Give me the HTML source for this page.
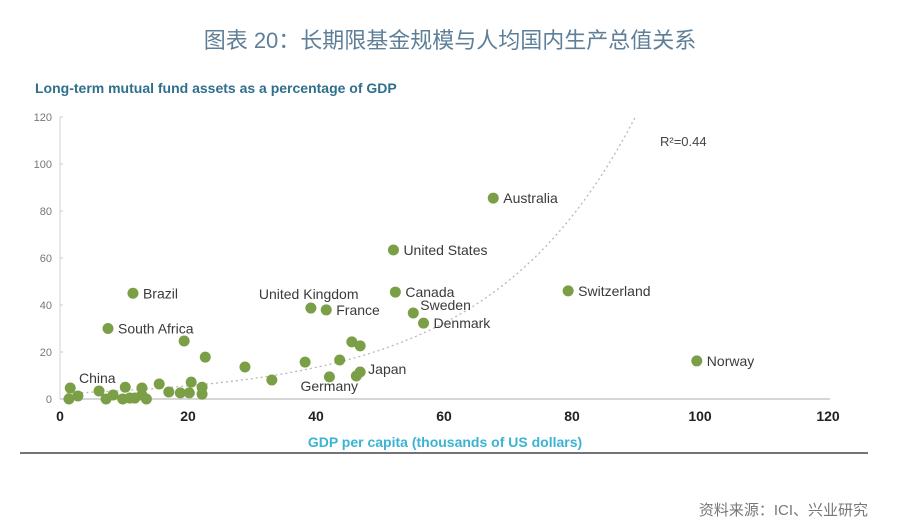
<!DOCTYPE html>
<html><head><meta charset="utf-8">
<style>
body{margin:0;background:#fff;width:902px;height:532px;overflow:hidden;font-family:"Liberation Sans","Noto Sans CJK SC",sans-serif;}
svg{display:block}
</style></head>
<body>
<svg width="902" height="532">
<text x="450" y="48" text-anchor="middle" font-size="22" fill="#5f7f99" font-family="Liberation Sans,Noto Sans CJK SC,sans-serif">图表 20：长期限基金规模与人均国内生产总值关系</text>
<text x="35" y="93" font-size="14" font-weight="bold" fill="#2f6f8c">Long-term mutual fund assets as a percentage of GDP</text>
<g id="axes"></g>
<path id="trend" fill="none" stroke="#b8b8b8" stroke-width="1.3" stroke-dasharray="2,3"></path>
<g id="dots"></g>
<text x="660" y="146" font-size="13" fill="#444">R²=0.44</text>
<text x="445" y="447" text-anchor="middle" font-size="14" font-weight="bold" fill="#3bb3d3">GDP per capita (thousands of US dollars)</text>
<line x1="20" y1="453" x2="868" y2="453" stroke="#222" stroke-width="1.2"/>
<text x="868" y="515" text-anchor="end" font-size="15" fill="#777" font-family="Liberation Sans,Noto Sans CJK SC,sans-serif">资料来源：ICI、兴业研究</text>
</svg>
<script>
const xTicks=[0,20,40,60,80,100,120];
const yTicks=[0,20,40,60,80,100,120];
const xs=[1.6,1.4,2.8,6.1,7.2,8.3,10.2,9.8,10.9,11.7,12.8,12.8,13.5,11.4,7.5,15.5,17,18.8,20.2,20.5,19.4,22.2,22.2,22.7,28.9,33.1,38.3,39.2,41.6,42.1,43.7,45.6,46.9,46.3,46.9,52.1,52.4,55.2,56.8,67.7,79.4,99.5];
const ys=[4.7,0,1.3,3.4,0,1.7,5,0,0.4,0.4,4.7,1.7,0,45,30,6.4,3,2.6,2.6,7.2,24.7,5,2.1,17.8,13.6,8.1,15.7,38.7,37.9,9.4,16.6,24.3,22.6,9.8,11.5,63.4,45.5,36.6,32.3,85.5,46,16.2];
const labels=[{i:13,t:"Brazil",dx:10,dy:5},{i:14,t:"South Africa",dx:10,dy:5},{i:1,t:"China",dx:10,dy:-16},{i:27,t:"United Kingdom",dx:-52,dy:-9},{i:28,t:"France",dx:10,dy:5},{i:29,t:"Germany",dx:-29,dy:14},{i:34,t:"Japan",dx:8,dy:2},{i:35,t:"United States",dx:10,dy:5},{i:36,t:"Canada",dx:10,dy:5},{i:37,t:"Sweden",dx:7,dy:-3},{i:38,t:"Denmark",dx:10,dy:5},{i:39,t:"Australia",dx:10,dy:5},{i:40,t:"Switzerland",dx:10,dy:5},{i:41,t:"Norway",dx:10,dy:5}];
const trendA=2.32, trendB=0.0439;
const NS="http://www.w3.org/2000/svg";
const X=v=>60+v*6.4, Y=v=>399-v*2.35;
const ax=document.getElementById('axes');
function mk(tag,attrs,parent){const e=document.createElementNS(NS,tag);for(const k in attrs)e.setAttribute(k,attrs[k]);parent.appendChild(e);return e;}
let l=mk('line',{x1:X(0),y1:Y(0),x2:830,y2:Y(0),stroke:'#c8c8c8','stroke-width':1.5},ax);


l=mk('line',{x1:X(0),y1:Y(0),x2:X(0),y2:Y(120),stroke:'#d0d0d0','stroke-width':1},ax);


xTicks.forEach(v=>{const t=mk('text',{x:X(v),y:421,'text-anchor':'middle','font-size':14,'font-weight':'bold',fill:'#222'},ax);t.textContent=v;

});
yTicks.forEach(v=>{const t=mk('text',{x:52,y:Y(v)+4,'text-anchor':'end','font-size':11,fill:'#777'},ax);t.textContent=v;


const k=mk('line',{x1:X(0),y1:Y(v),x2:X(0)+3,y2:Y(v),stroke:'#ccc'},ax);});
let d='';for(let v=1;v<=90;v+=0.5){const y=trendA*Math.exp(trendB*v);if(y>121)break;d+=(d?'L':'M')+X(v).toFixed(1)+','+Y(y).toFixed(1);}
document.getElementById('trend').setAttribute('d',d);
const g=document.getElementById('dots');
xs.forEach((v,i)=>{const c=mk('circle',{cx:X(v),cy:Y(ys[i]),r:5.5,fill:'#7b9f46'},g);

});
labels.forEach(o=>{const t=mk('text',{x:X(xs[o.i])+o.dx,y:Y(ys[o.i])+o.dy,'font-size':14,fill:'#3a3a3a'},g);t.textContent=o.t;

});
</script>
</body></html>
